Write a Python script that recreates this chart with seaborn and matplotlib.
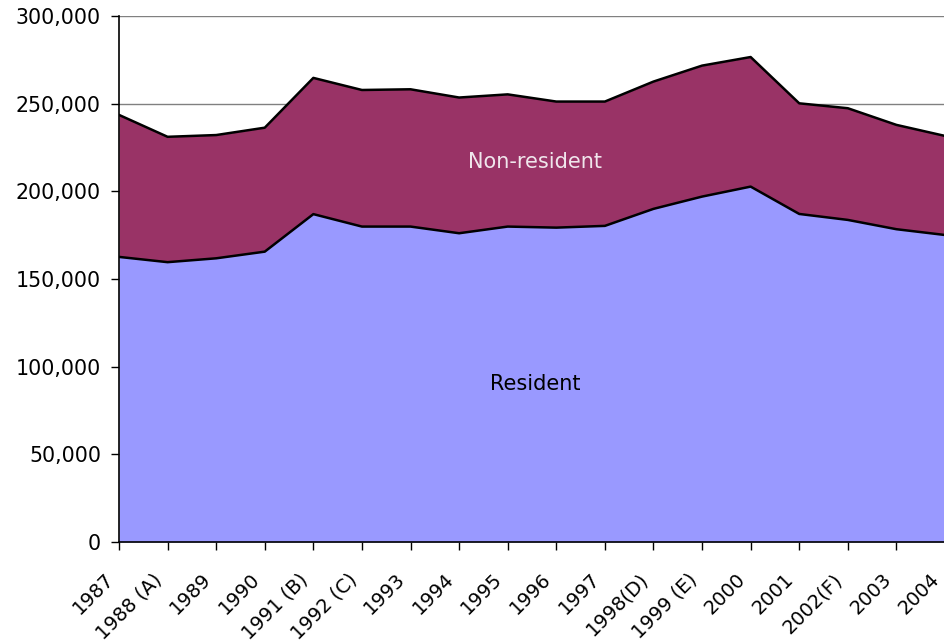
import numpy as np
import pandas as pd
import matplotlib
matplotlib.use("Agg")
import matplotlib.pyplot as plt
import matplotlib.transforms as mtransforms
import seaborn as sns
from matplotlib.ticker import FuncFormatter, MultipleLocator

years = ["1987", "1988 (A)", "1989", "1990", "1991 (B)", "1992 (C)", "1993",
         "1994", "1995", "1996", "1997", "1998(D)", "1999 (E)", "2000",
         "2001", "2002(F)", "2003", "2004"]
resident = [162600, 159600, 161800, 165600, 187000, 179900, 179900, 176100,
            179900, 179300, 180300, 190000, 197000, 202700, 187100, 183700,
            178400, 175100]
non_resident = [81000, 71500, 70300, 70700, 77700, 77900, 78300, 77400,
                75400, 71900, 70900, 72600, 74700, 73900, 63100, 63700,
                59500, 56500]

resident_color = "#9999FF"
non_resident_color = "#993366"

df = pd.DataFrame({"year": years, "Resident": resident, "Non-resident": non_resident})
df["pos"] = np.arange(len(df))
df["total"] = df["Resident"] + df["Non-resident"]

sns.set_style("white")
plt.rcParams["font.family"] = ["DejaVu Sans"]

fig = plt.figure(figsize=(9.45, 6.43), dpi=100)
ax = fig.add_axes([119 / 945, 101 / 643, 826 / 945, 526 / 643])

# gridlines behind the areas
ax.set_axisbelow(True)
ax.yaxis.grid(True, color="#808080", linewidth=1.0)
ax.xaxis.grid(False)

ax.fill_between(df["pos"], 0, df["Resident"], color=resident_color, linewidth=0, zorder=2)
ax.fill_between(df["pos"], df["Resident"], df["total"], color=non_resident_color,
                linewidth=0, zorder=2)

sns.lineplot(data=df, x="pos", y="Resident", color="black", linewidth=1.8, ax=ax, zorder=3)
sns.lineplot(data=df, x="pos", y="total", color="black", linewidth=1.8, ax=ax, zorder=3)

ax.set_xlim(0, len(years) - 1)
ax.set_ylim(0, 300000)
ax.yaxis.set_major_locator(MultipleLocator(50000))
ax.yaxis.set_major_formatter(FuncFormatter(lambda v, p: f"{int(v):,}"))
ax.set_xticks(df["pos"])
ax.set_xticklabels(years, rotation=45, ha="right", rotation_mode="anchor")
ax.set_xlabel("")
ax.set_ylabel("")

for s in ["top", "right"]:
    ax.spines[s].set_visible(False)
for s in ["left", "bottom"]:
    ax.spines[s].set_color("black")
    ax.spines[s].set_linewidth(1.2)
ax.spines["bottom"].set_zorder(4)

ax.tick_params(axis="both", which="major", direction="out", length=6, width=1,
               color="black", labelsize=14, labelcolor="black", bottom=True, left=True)
ax.tick_params(axis="y", labelsize=14.8, pad=7)
ax.tick_params(axis="x", pad=6)

# shift rotated year labels so their ends sit just left of each tick
shift = mtransforms.ScaledTranslation(-15 / 100, -11 / 100, fig.dpi_scale_trans)
for lbl in ax.get_xticklabels():
    lbl.set_transform(lbl.get_transform() + shift)

ax.text(8.56, 216500, "Non-resident", color="#F0E6EC", fontsize=15,
        ha="center", va="center", zorder=5)
ax.text(8.56, 90000, "Resident", color="black", fontsize=15,
        ha="center", va="center", zorder=5)

fig.savefig("out.png", dpi=100)
